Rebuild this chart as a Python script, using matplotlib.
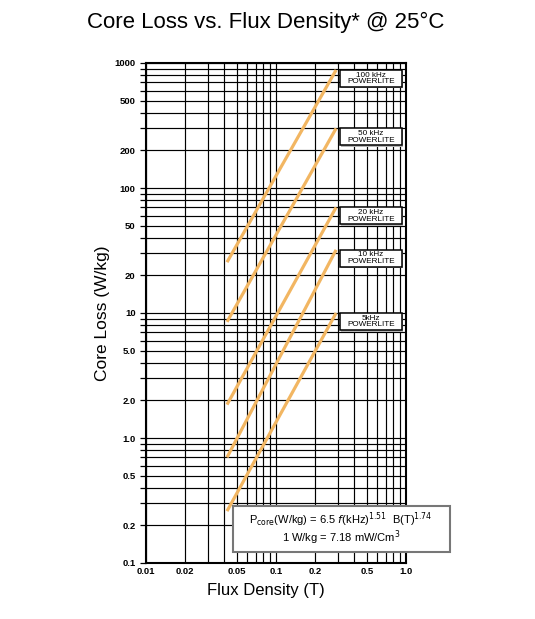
import matplotlib
matplotlib.use("Agg")
import matplotlib.pyplot as plt
import matplotlib.ticker as mticker
import numpy as np
from matplotlib.patches import Rectangle

plt.rcParams['font.family'] = ['Liberation Sans', 'DejaVu Sans']

# values (line endpoints on log-log axes)
freq_labels = ['100 kHz', '50 kHz', '20 kHz', '10 kHz', '5kHz']
b_start = [0.042, 0.042, 0.042, 0.042, 0.042]
b_end = [0.29, 0.29, 0.29, 0.29, 0.29]
p_start = [25.5, 8.5, 1.85, 0.70, 0.26]
p_end = [880, 300, 70, 32, 10]

y_ticks = [0.1, 0.2, 0.5, 1.0, 2.0, 5.0, 10, 20, 50, 100, 200, 500, 1000]
y_tick_labels = ['0.1', '0.2', '0.5', '1.0', '2.0', '5.0', '10', '20', '50',
                 '100', '200', '500', '1000']
x_ticks = [0.01, 0.02, 0.05, 0.1, 0.2, 0.5, 1.0]
x_tick_labels = ['0.01', '0.02', '0.05', '0.1', '0.2', '0.5', '1.0']

W, H = 535, 619
fig = plt.figure(figsize=(W / 100, H / 100), dpi=100)
ax = fig.add_axes([146 / W, 1 - 563 / H, 260 / W, 500 / H])

ax.set_xscale('log')
ax.set_yscale('log')
ax.set_xlim(0.01, 1.0)
ax.set_ylim(0.1, 1000)

ax.xaxis.set_major_locator(mticker.FixedLocator(x_ticks))
ax.xaxis.set_major_formatter(mticker.FixedFormatter(x_tick_labels))
ax.yaxis.set_major_locator(mticker.FixedLocator(y_ticks))
ax.yaxis.set_major_formatter(mticker.FixedFormatter(y_tick_labels))
ax.xaxis.set_minor_locator(mticker.LogLocator(base=10, subs=range(1, 10)))
ax.yaxis.set_minor_locator(mticker.LogLocator(base=10, subs=range(1, 10)))
ax.xaxis.set_minor_formatter(mticker.NullFormatter())
ax.yaxis.set_minor_formatter(mticker.NullFormatter())

ax.grid(which='both', color='black', linewidth=0.85)
ax.set_axisbelow(True)
ax.tick_params(which='both', direction='out', length=4, width=0.9, colors='black',
               labelsize=6.8)
ax.tick_params(axis='x', which='both', length=0, pad=3)
for lab in ax.get_xticklabels() + ax.get_yticklabels():
    lab.set_fontweight('bold')
for s in ax.spines.values():
    s.set_linewidth(1.5)

ylo, yhi = np.log10(ax.get_ylim())
for i in range(len(freq_labels)):
    ax.plot([b_start[i], b_end[i]], [p_start[i], p_end[i]],
            color='#f2b662', linewidth=2.3, solid_capstyle='butt', zorder=3)
    # label box, top edge level with the line end
    top = (np.log10(p_end[i]) - ylo) / (yhi - ylo)
    x0, bw, bh = 0.746, 0.239, 0.034
    ax.add_patch(Rectangle((x0 + 0.005, top - bh - 0.003), bw, bh,
                           transform=ax.transAxes, facecolor='#b5b5b5',
                           edgecolor='none', zorder=4, clip_on=False))
    ax.add_patch(Rectangle((x0, top - bh), bw, bh, transform=ax.transAxes,
                           facecolor='white', edgecolor='black', linewidth=1.1,
                           zorder=5, clip_on=False))
    ax.text(x0 + bw / 2, top - bh / 2, freq_labels[i] + '\nPOWERLITE',
            transform=ax.transAxes, fontsize=5.9, ha='center', va='center',
            linespacing=0.95, zorder=6)

fig.text(266 / W, 1 - 22 / H, 'Core Loss vs. Flux Density* @ 25°C',
         ha='center', va='center', fontsize=16)
ax.set_xlabel('Flux Density (T)', fontsize=12)
ax.xaxis.set_label_coords(0.46, -0.04)
ax.set_ylabel('Core Loss (W/kg)', fontsize=12.5, labelpad=3)

box = Rectangle((233 / W, 1 - 552 / H), 217 / W, 46 / H, transform=fig.transFigure,
                facecolor='white', edgecolor='#777777', linewidth=1.5, zorder=6)
fig.add_artist(box)
fig.text(341 / W, 1 - 520 / H,
         r'P$_{\mathrm{core}}$(W/kg) = 6.5 $f$(kHz)$^{1.51}$  B(T)$^{1.74}$',
         ha='center', va='center', fontsize=8, zorder=7)
fig.text(341 / W, 1 - 538 / H, r'1 W/kg = 7.18 mW/Cm$^{3}$',
         ha='center', va='center', fontsize=8, zorder=7)

fig.savefig('out.png', dpi=100)
